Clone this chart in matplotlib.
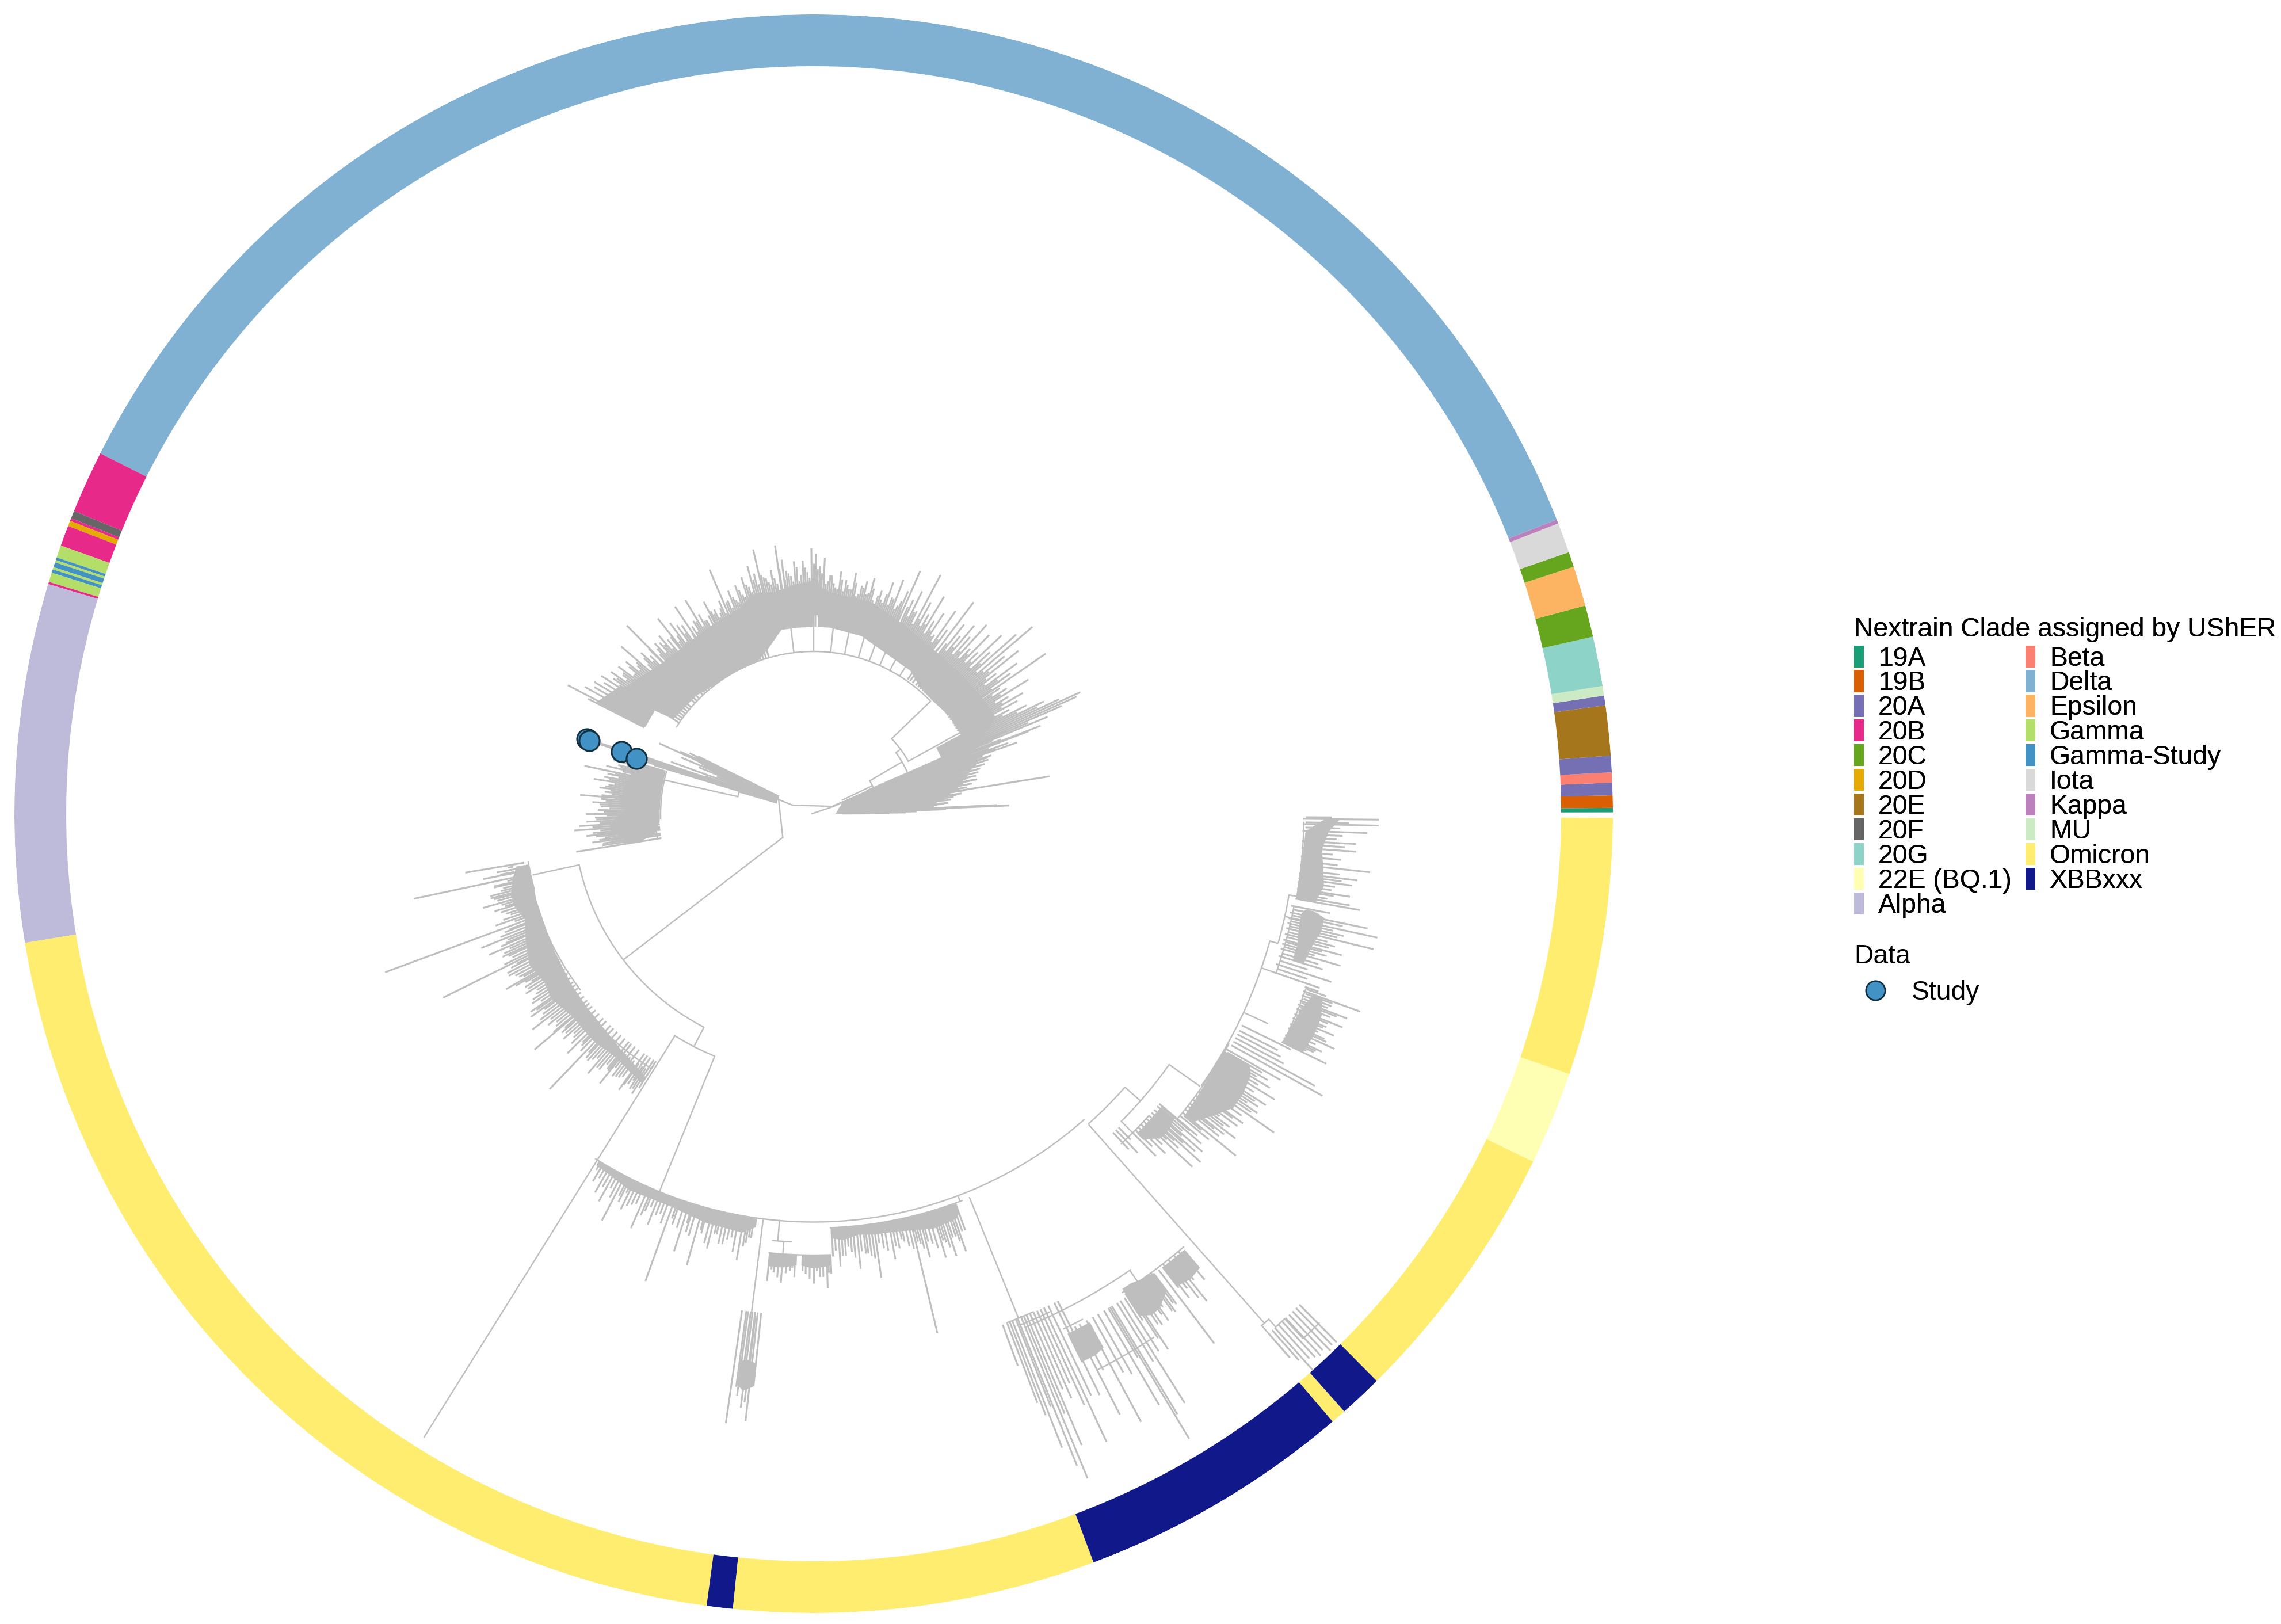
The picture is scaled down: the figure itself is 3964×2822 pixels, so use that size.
import numpy as np
import matplotlib
matplotlib.use("Agg")
import matplotlib.pyplot as plt
from matplotlib.patches import Patch
from matplotlib.lines import Line2D

plt.rcParams['font.family'] = ['Liberation Sans', 'DejaVu Sans']

# ---- clade colours ----
clade_names = ['19A','19B','20A','20B','20C','20D','20E','20F','20G','22E (BQ.1)','Alpha',
               'Beta','Delta','Epsilon','Gamma','Gamma-Study','Iota','Kappa','MU','Omicron','XBBxxx']
clade_colors = ['#1B9E77','#D95F02','#7570B3','#E7298A','#66A61E','#E6AB02','#A6761D','#666666',
                '#8DD3C7','#FFFFB3','#BEBADA','#FB8072','#80B1D3','#FDB462','#B3DE69','#4292C6',
                '#D9D9D9','#BC80BD','#CCEBC5','#FFED6F','#10188A']

# ---- outer ring: clade and the angle (deg) where its run ends, from 0.1 deg counter-clockwise ----
ring_clade = ['19A','19B','20A','Beta','20A','20E','20A','MU','20G','20C','Epsilon','20C','Iota','Kappa',
              'Delta','20B','20F','20B','20D','20B','Gamma','Gamma-Study','Gamma','Gamma-Study','Gamma',
              'Gamma-Study','Gamma','20B','Alpha','Omicron','XBBxxx','Omicron','XBBxxx','Omicron',
              'XBBxxx','Omicron','22E (BQ.1)','Omicron']
ring_end = [0.42,1.32,2.23,2.97,4.17,7.8,8.5,9.2,12.8,15.1,18.0,19.1,21.3,21.6,
            153.2,157.75,158.3,158.5,158.9,160.4,161.3,161.5,161.67,162.03,162.2,
            162.45,163.14,163.3,189.3,262.3,264.2,290.5,310.5,311.6,314.8,334.2,341.0,359.7]

# ---- tree: tips as (angle deg, radius) per clade ----
fan_theta = [0.3,0.8,1.3,1.9,2.4,2.7,3.2,3.7,4.3,5,5.5,6,6.5,7,7.5,8,8.5,9,9.5,10,10.5,11,11.9,12.5,13,13.5,14,14.5,15,15.5,16,16.5,17,17.5,17.9,18.5]
fan_tip = [131,160,179,230,340,319,210,190,227,200,215,190,230,225,250,220,235,415,255,240,250,260,290,265,272,255,245,260,270,255,285,293,280,300,318,300]
fanM_theta = [1.6,2.2,3,3.5,4,4.6,5.2,5.8,6.2,6.8,7.2,7.8,8.2,8.8,9.2,9.8,10.2,10.8,11.4,12,12.8,13.2,13.8,14.2,14.8,15.2,15.8,16.2,16.8,17.2,17.7,18.2,18.8,19.6,20.4,21,21.6,22.2,22.8,23.4]
fanM_tip = [150,165,185,200,215,235,215,240,220,245,235,260,240,265,250,270,255,280,265,285,270,290,275,295,280,300,285,310,295,318,300,325,310,335,325,345,350,335,345,365]
iota_theta = [19.3,20,21,21.2,22.5,23,23.5,24,24.5,25,25.5,26,26.5,27,27.5,28]
iota_tip = [375,360,400,423,440,405,470,500,509,470,430,445,395,415,370,385]
deltaA_theta = [29,30,31,32,33,34.6,35.5,36.5,37.5,38.5,39.5,40.5,41.5,42.5,43.5]
deltaA_tip = [405,420,395,440,400,490,420,440,400,455,430,500,470,415,450]
deltaB_theta = [44.5,45.5,46.5,47.5,48.5,49.5,50.5,51.5,52.9,54,55]
deltaB_tip = [400,435,395,445,410,430,400,420,461,395,430]
deltaC_theta = [56,57,58,59,60,61,62,63,64,65,66.3,67,68,69,70,71,72,73,74,75.5,76,77,78,79,80,81,82,83.5,84.5,85.5,86.5,87.5,88.5,89.5,90.5,91.5,92.5,93.5,94.5,95.5,96.5,97.2,98.2,99,100,101,102,102.9,104,105]
deltaC_tip = [375,415,395,440,400,420,470,395,430,410,461,420,390,435,400,425,385,405,380,423,395,415,405,385,425,395,410,424,395,415,405,445,430,452,461,420,440,405,440,415,425,445,471,405,430,410,420,471,430,445]
deltaD_theta = [106,107,108,109,110,111,112,113.1,114,115,116,117.4,118,119,120,121,122,123.8,125,126,127,128.6,130,131,132,133,134.8,136,137,139,140,141,142,143,144,145,146]
deltaD_tip = [410,430,400,420,395,415,400,461,405,385,395,415,390,385,400,433,395,433,400,405,415,434,395,410,400,405,461,395,410,443,400,420,395,425,410,430,420]
deltaE_theta = [147,148,149,150,151,152.4,153]
deltaE_tip = [440,430,445,440,455,482,440]
deltaM_theta = [29.5,30.5,31.5,32.5,33.5,34,35,36,37,38,39,40,41,42,43,44,45,46,47,48,49,50,51,52,53,54.5,55.5,56.5,57.5,58.5,59.5,60.5,61.5,62.5,63.5,64.5,65.5,66.8,67.5,68.5,69.5,70.5,71.5,72.5,73.5,74.5,75,76.5,77.5,78.5,79.5,80.5,81.5,82.5,83,84,85,86,87,88,89,90,91,92,93,94,95,96,97,98,99.5,100.5,101.5,102.5,103.5,104.5,105.5,106.5,107.5,108.5,109.5,110.5,111.5,112.5,113.5,114.5,115.5,116.5,117,118.5,119.5,120.5,121.5,122.5,123,124,125.5,126.5,127.5,128,129,130.5,131.5,132.5,133.5,134,135,136.5,137.5,138,139.5,140.5,141.5,142.5,143.5,144.5,145.5,146.5]
deltaM_tip = [375,380,370,385,372,390,378,395,372,380,392,385,375,390,372,380,372,385,370,380,368,378,365,375,360,372,362,370,378,368,382,375,385,372,392,380,395,385,400,382,398,385,402,390,395,385,405,392,402,390,408,395,402,390,410,392,402,415,400,418,425,435,410,428,415,430,405,420,410,430,415,405,418,425,410,420,400,415,395,410,390,402,385,398,380,392,378,388,395,372,385,378,392,375,388,378,385,372,390,380,395,378,392,380,395,385,405,385,400,388,405,392,410,395,412,400,415,405]
gamma_theta = [153.6,154,154.5,155,155.5,156,157,158,159,160,161,161.4,161.7,162,162.3,162.8,163.1]
gamma_tip = [224,240,225,256,295,200,250,215,180,264,200,330,415,405,351,323,290]
alpha_theta = [164,165,166,167,168.2,169,170,171,172,173,174,175.4,176,177,178,179,180,181,182,183,184,185,185.6,186,187.4,188,189.1]
alpha_tip = [345,360,350,370,407,365,370,387,360,375,365,407,370,385,370,375,396,380,395,408,417,385,397,380,388,370,418]
alphaM_theta = [164.5,165.5,166.5,167.5,168.7,169.5,170.5,171.5,172.5,173.5,174.5,175,176.5,177.5,178.5,179.5,180.5,181.5,182.5,183.5,184.5,185.2,186.5,187,187.9,188.5]
alphaM_tip = [320,335,345,340,352,345,360,350,365,355,352,370,362,372,355,365,360,378,372,385,372,378,365,375,355,372]
omA_theta = [189.6,190.5,191.2,192,192.8,193.5,194.3,195,195.9,196.7,197.5,198.4,199.4,200.3,201,202,202.8,203.5,204.3,205,206.4,207,208,209,209.7,210.3,211,212,213,214,215,215.7,216.5,217.5,218.5,219.5,220.2,221,222,223,224.2,225,226.2,227,228,229,230,231,231.6,232.5,233.5,234.8,235.5,236.2,237,237.5]
omA_tip = [614,560,585,710,570,555,580,575,597,560,570,555,586,794,575,623,580,615,590,585,719,590,600,585,615,580,585,590,575,590,600,605,585,616,590,580,635,580,585,570,597,570,663,580,575,598,580,570,598,575,570,587,570,575,580,565]
omAM_theta = [190,191,192.4,193,193.9,194.7,195.4,196.3,197,198,198.9,199.8,200.8,201.5,202.4,203,203.9,204.7,205.5,206,206.8,207.5,208.5,209.3,210,210.7,211.5,212.5,213.5,214.5,215.3,216,217,218,219,220,220.7,221.5,222.5,223.5,224.7,225.5,226.7,227.5,228.5,229.5,230.5,231.3,232,233,234,235,235.9,236.6]
omAM_tip = [540,555,545,570,560,580,570,565,580,562,570,552,565,585,575,590,578,595,580,598,578,600,590,578,598,570,582,570,585,575,590,578,595,580,575,590,570,575,565,580,565,578,570,582,568,580,565,572,560,572,565,575,560,572]
omB_theta = [239,240,241,242.5,243.3,244,245,246.2,247,248,249,250.2,251,252.3,253,254.3,255,256.2,257,258,259,260.2,261,261.6]
omB_tip = [745,760,770,797,755,765,750,787,750,770,745,863,755,798,760,815,755,778,750,765,750,787,755,746]
omBM_theta = [238.6,239.5,240.5,241.5,242,243,243.7,244.5,245.5,246.7,247.5,248.5,249.5,250.7,251.7,252.8,253.5,254.8,255.7,256.7,257.5,258.5,259.5,260.7,261.3]
omBM_tip = [725,735,745,740,755,745,735,755,745,760,740,750,760,745,758,745,765,750,770,750,765,755,775,762,745]
omC_theta = [261.8,262.3,262.5,262.8,263,263.3,263.6,264]
omC_tip = [1070,1005,1020,1000,1040,1030,1062,1000]
omD_theta = [264.3,265,266,267,267.6,269,270,270.8,271.7,272.2]
omD_tip = [816,800,817,795,806,800,816,805,825,800]
omDM_theta = [264.7,265.5,266.5,267.3,268.6,269.5,270.4,271.2,271.9]
omDM_tip = [795,808,800,790,795,808,795,805,798]
omE_theta = [272.5,273.4,274.2,275,275.9,276.8,277.5,278.3,279.2,280.4,281.2,282,283,283.4,284,284.7,285.5,286.6,287.2,287.9,288.6,289.2,290]
omE_tip = [770,788,770,765,795,770,775,815,765,787,770,760,776,928,770,797,775,805,780,808,775,805,770]
omEM_theta = [272.9,273.8,274.6,275.4,276.3,277.1,277.9,278.7,279.7,280.8,281.7,282.5,283.7,284.3,285,286,286.9,287.5,288.2,288.9,289.6]
omEM_tip = [760,770,755,775,765,770,780,755,770,765,755,770,765,780,770,785,775,790,775,785,770]
xA_theta = [290.3,290.8,291.1,291.4,291.8,292,292.4,292.7,293,293.4,293.8,294.2,294.6,295,295.5,296.2,296.6]
xA_tip = [1023,1095,1120,1183,1110,1222,1249,1130,1192,1090,1110,1085,1130,1204,1120,1126,1060]
xB_theta = [297,297.5,298.3,299,299.6,300.3,300.8,301,301.2,301.8,302.2,302.7]
xB_tip = [1172,1090,1200,1110,1120,1190,1100,1267,1220,1120,1210,1110]
xC_theta = [303,303.5,304,304.5,305,305.5,306,306.5,307.1,307.6,308.2,308.9,309.5,310]
xC_tip = [1050,1116,1070,1040,1075,1035,1070,1060,1154,1040,1050,1088,1030,1057]
xCM_theta = [303.3,303.8,304.3,304.8,305.3,305.8,306.3,307.8,308.5,309.2,309.8]
xCM_tip = [1090,1040,1075,1060,1050,1065,1055,1065,1075,1045,1035]
xD_theta = [311.2,311.6,311.9,312.3,312.7,313.1,313.5,313.9,314.3,314.7]
xD_tip = [1256,1270,1299,1280,1285,1290,1285,1295,1290,1292]
rA_theta = [313.2,313.7,314.2]
rA_tip = [800,815,790]
rB_theta = [315,315.5,316,316.5,317,317.5,318,318.5,319,319.6,320]
rB_tip = [841,825,850,835,900,860,905,885,895,885,870]
rBM_theta = [315.8,316.3,316.8,317.3,317.8,318.3,318.8,319.3,319.9]
rBM_tip = [810,815,825,835,845,860,850,845,855]
rC_theta = [320.5,321,321.5,322,322.4,323,323.6,324.2,325.3,326,326.6,327.2,328.2,329,329.6,330.3]
rC_tip = [890,944,900,905,925,905,915,920,973,930,925,935,943,925,915,934]
rCM_theta = [320.8,321.8,322.7,323.3,324,324.8,325.7,326.3,326.9,327.7,328.6,329.3,330]
rCM_tip = [870,885,895,880,900,910,920,905,915,905,905,895,900]
rD_theta = [331,331.5,332,332.5,333,333.7]
rD_tip = [1011,991,925,915,905,925]
rE_theta = [334,334.5,334.9,335.7,336.2,336.9,337.4,338,338.5,339,339.6,340.1,340.6]
rE_tip = [991,963,975,993,970,983,965,991,965,993,960,1010,930]
rEM_theta = [334.3,334.7,335.3,336,336.6,337.2,337.8,338.3,338.8,339.3,339.9,340.4]
rEM_tip = [950,965,960,975,955,960,965,950,975,955,960,945]
rF_theta = [341,342,343,343.9,344.5,345,345.7,346.4,347,347.6,348.3,349.1]
rF_tip = [930,946,925,953,925,950,935,1001,945,1003,983,914]
rFM_theta = [341.5,342.5,343.4,344.2,344.8,345.4,346,346.7,347.3,348,348.7]
rFM_tip = [905,900,915,905,915,925,920,935,925,940,895]
rG_theta = [350,350.3,351.2,352,352.4,353,354,355,356,356.8,358,358.8,359.4]
rG_tip = [964,945,943,915,944,952,972,920,945,944,963,982,982]
rGM_theta = [350.6,351,351.6,352.7,353.4,354.4,355.5,356.4,357.2,357.6,358.4,359,359.6]
rGM_tip = [905,915,910,925,920,915,905,925,910,920,915,930,900]

# base radius for each tip group
tip_groups = [(fan_theta, fan_tip, 50), (fanM_theta, fanM_tip, 100), (iota_theta, iota_tip, 242), (deltaA_theta, deltaA_tip, 288),
              (deltaB_theta, deltaB_tip, 285), (deltaC_theta, deltaC_tip, 325), (deltaD_theta, deltaD_tip, 283),
              (deltaE_theta, deltaE_tip, 330), (deltaM_theta, deltaM_tip, 345), (gamma_theta, gamma_tip, 67),
              (alpha_theta, alpha_tip, 268), (alphaM_theta, alphaM_tip, 300), (omA_theta, omA_tip, 510),
              (omAM_theta, omAM_tip, 530), (omB_theta, omB_tip, 709), (omBM_theta, omBM_tip, 712), (omC_theta, omC_tip, 872),
              (omD_theta, omD_tip, 767), (omDM_theta, omDM_tip, 770), (omE_theta, omE_tip, 720), (omEM_theta, omEM_tip, 725),
              (xA_theta, xA_tip, 947), (xB_theta, xB_tip, 1000), (xC_theta, xC_tip, 994), (xCM_theta, xCM_tip, 990),
              (xD_theta, xD_tip, 1200), (rA_theta, rA_tip, 760), (rB_theta, rB_tip, 784), (rBM_theta, rBM_tip, 790),
              (rC_theta, rC_tip, 825), (rCM_theta, rCM_tip, 830), (rD_theta, rD_tip, 830), (rE_theta, rE_tip, 905),
              (rEM_theta, rEM_tip, 910), (rF_theta, rF_tip, 845), (rFM_theta, rFM_tip, 850), (rG_theta, rG_tip, 850),
              (rGM_theta, rGM_tip, 855)]

# dense parts of the tree: angle, inner radius, outer radius
mass_fan = ([0.3,1,3,5,7,9,11,13,15,17,19,21,23,24],
            [30,38,38,40,40,42,42,44,46,48,50,52,55,60],
            [100,115,150,170,190,205,220,230,240,255,270,280,285,280])
mass_delta = ([21.6,28,36,44,50,56,65,75,85,88.5,89,90,90.5,95,100,105,110,120,135,146,147,152.8],
              [245,290,290,285,287,300,305,320,325,325,346,346,325,325,325,300,283,282,290,295,330,330],
              [300,358,355,352,352,355,365,382,385,395,405,415,405,400,392,398,380,372,372,395,405,425])
mass_gamma = ([153.6,155,157,159,160],
              [70,70,70,70,70],
              [215,240,200,165,140])
mass_alpha = ([164,167,170,173,176,179,182,185,187,189],
              [268,268,268,268,268,268,268,272,278,305],
              [300,325,330,335,335,330,350,355,335,325])
mass_omA = ([190,192,195,197,200,204,208,212,215,220,226,231,234,237.5],
            [505,503,503,505,505,507,510,512,515,518,522,530,535,543],
            [525,535,545,545,535,548,560,552,558,548,550,545,550,555])
mass_omB = ([238.2,244,250,255.3,260.3,262],
            [709,709,709,709,709,709],
            [718,728,726,735,738,725])
mass_omC = ([262.3,263,264],[960,955,960],[1000,1010,1000])
mass_omD = ([264.2,266,267.8],[767,767,767],[790,790,785])
mass_omD2 = ([268.4,270,272.2],[767,767,767],[785,790,785])
mass_omE = ([272.3,274,276,278,281.5,284,286.2,289.5,290],
            [720,720,720,720,720,720,720,720,722],
            [738,742,735,738,740,745,750,745,738])
mass_x = ([296,297.5,298.5],[1005,1005,1005],[1060,1060,1055])
mass_x2 = ([303,304,305,306.5],[984,984,988,992],[1040,1050,1048,1030])
mass_x3 = ([307.5,309,310.4],[994,994,994],[1035,1040,1035])
mass_r1 = ([315.3,317,318.5,319.8],[790,790,790,790],[805,825,825,820])
mass_r2 = ([321,323,325,327,329,330],[830,828,826,825,825,825],[850,870,890,890,885,875])
mass_r3 = ([334,336,338,340.2],[905,908,912,923],[945,950,950,940])
mass_r4 = ([343,345,347,348.5,349],[870,870,865,865,870],[890,895,905,905,885])
mass_r5 = ([350,352,354,356,358,359.5],[850,852,852,853,855,890],[885,895,890,885,895,915])
mass_all = [mass_fan, mass_delta, mass_gamma, mass_alpha, mass_omA, mass_omB, mass_omC, mass_omD, mass_omD2,
            mass_omE, mass_x, mass_x2, mass_x3, mass_r1, mass_r2, mass_r3, mass_r4, mass_r5]

# internal branches: radial (angle, r0, r1)
radial_branches = [
    (158,40,67),(217.5,68,417),(192.3,418,499),(242.8,417,455),(238,455,1278),(247.8,455,708),
    (22.2,37,55),(30.4,113,178),(43.9,188,282),(29,188,288),(22.5,178,242),(36.6,178,188),(25.5,55,113),
    (97,282,330),(90,282,346),(84,282,330),(79,282,330),(74,282,330),(70,282,330),(66,282,320),(62,282,320),(58,282,310),
    (167.3,135,264),(163.7,67,135),(262.9,709,872),(263.4,880,960),(265.2,709,745),(266,745,767),
    (292.1,720,945),(292.4,945,965),(304.7,965,994),(311.5,722,1182),(318.7,720,755),(324.8,757,821),
    (315,756,784),(335.2,825,869),(344.4,823,837),(350.3,839,850),(290.7,712,720),
    (341,823,845),(347.7,840,876),(311.2,1182,1256),(312,1182,1200),(313,1200,1247),
]
# internal branches: arcs (angle0, angle1, r)
arc_branches = [
    (192.3,242.8,417),(237.9,247.8,455),(237.7,311.5,709.5),(311.6,318.6,720),(315,324.8,756),
    (325,344.4,823),(344.5,350.3,838),(350.3,359,852),(22.4,30.4,113),(23,36.6,178),(29,43.8,188),(44,147.7,282),
    (147.7,152.6,330),(163.7,167.3,135),(164,182,266),(182,189,275),(189.6,195,503),(195,217,508),(217,237.3,525),
    (264.5,267,745),(264.2,272.2,767),(272.3,291,720),(290.8,293.8,946),(292,295.3,958),(292.4,304.8,965),
    (302.8,310.5,990),(295.9,298,995),(297,303,1085),(311.2,312,1182),(312,313,1200),(313,314.8,1247),
    (313,318,784),(320,331,825),(334.1,340.6,908),(341,349,850),
]
# root stem and the straight chords near the centre
stem_theta = [178,20,22]
stem_r = [3,37,55]
root_theta = [158,20]
root_r = [40,37]
chord_theta = [156,218]
chord_r = [67,68]

# study samples
study_theta = [161.7,161.9,162.0,162.7]
study_r = [415,410,351,323]

# ---- draw ----
W, H = 3964, 2822
CX, CY, R = 1414, 1414, 1389
RING_IN = 1299
fig = plt.figure(figsize=(W/100, H/100), dpi=100, facecolor='white')
ax = fig.add_axes([(CX-R)/W, (H-CY-R)/H, 2*R/W, 2*R/H], projection='polar')
GREY = '#BEBEBE'
LW = 2.2

color_of = dict(zip(clade_names, clade_colors))
starts = [0.1] + ring_end[:-1]
for name, a0, a1 in zip(ring_clade, starts, ring_end):
    ax.bar(np.deg2rad((a0+a1)/2), R-RING_IN, width=np.deg2rad(a1-a0), bottom=RING_IN,
           color=color_of[name], linewidth=0, align='center')

for th, inner, outer in mass_all:
    ax.fill_between(np.deg2rad(th), inner, outer, color=GREY, linewidth=0)
for th, tip, base in tip_groups:
    ax.vlines(np.deg2rad(th), base, tip, color=GREY, linewidth=LW)
for th, r0, r1 in radial_branches:
    ax.plot(np.deg2rad([th, th]), [r0, r1], color=GREY, lw=1.75, solid_capstyle='round')
for a0, a1, r in arc_branches:
    ts = np.deg2rad(np.linspace(a0, a1, 60))
    ax.plot(ts, np.full_like(ts, r), color=GREY, lw=1.75, solid_capstyle='round')
ax.plot(np.deg2rad(stem_theta), stem_r, color=GREY, lw=1.75)
ax.plot(np.deg2rad(root_theta), root_r, color=GREY, lw=1.75)
ax.plot(np.deg2rad(chord_theta), chord_r, color=GREY, lw=1.75)
ax.scatter(np.deg2rad(study_theta), study_r, s=640, facecolor=color_of['Gamma-Study'],
           edgecolor='#12303F', linewidth=2.2, zorder=5)

ax.set_ylim(0, R)
ax.set_axis_off()

# legends
FS = 33.3
handles = [Patch(facecolor=c, edgecolor='none', label=n) for n, c in zip(clade_names, clade_colors)]
leg1 = fig.legend(handles=handles, title='Nextrain Clade assigned by UShER', ncol=2, frameon=False,
                  fontsize=FS, title_fontsize=FS, alignment='left', loc='upper left',
                  bbox_to_anchor=(3222/W, 1-1072/H), borderpad=0, borderaxespad=0,
                  handlelength=0.37, handleheight=0.89, handletextpad=0.54, labelspacing=-0.045,
                  columnspacing=0.52)
leg1._legend_box.sep = 4
fig.add_artist(leg1)
study_handle = Line2D([], [], marker='o', linestyle='none', markersize=24, markerfacecolor=color_of['Gamma-Study'],
                      markeredgecolor='#12303F', markeredgewidth=2, label='Study')
leg2 = fig.legend(handles=[study_handle], title='Data', frameon=False, fontsize=FS, title_fontsize=FS,
                  alignment='left', loc='upper left', bbox_to_anchor=(3222/W, 1-1640/H), borderpad=0,
                  borderaxespad=0, handlelength=1.6, handletextpad=0.55)
leg2._legend_box.sep = 14

fig.savefig('out.png', dpi=100, facecolor='white')
